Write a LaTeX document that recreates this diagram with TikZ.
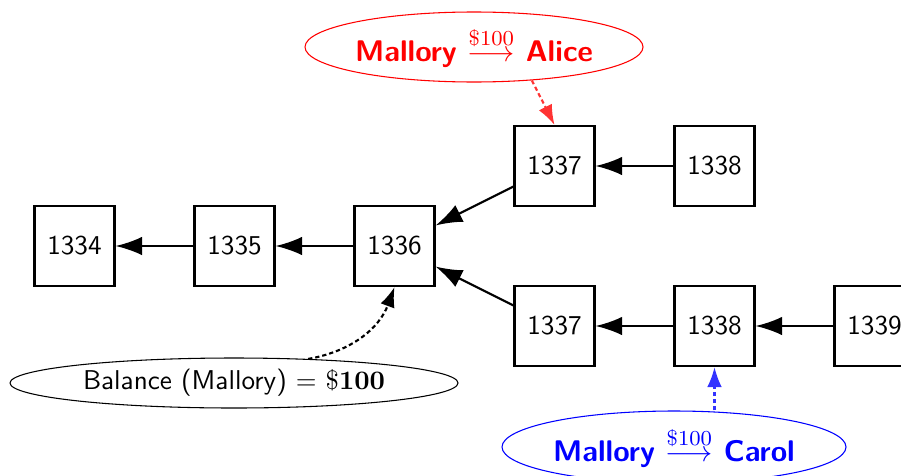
\documentclass[tikz,border=0pt]{standalone}
\usetikzlibrary{arrows.meta,shapes.geometric}
\usepackage{amsmath}
\begin{document}
\begin{tikzpicture}[x=0.375pt,y=-0.375pt,
  font=\sffamily\fontsize{10.2}{12}\selectfont,
  block/.style={draw,thick,minimum size=30pt,inner sep=0pt},
  link/.style={thick,-{Latex[length=10pt,width=7pt]}},
  hint/.style={thick,dash pattern=on 1.6pt off 1.1pt,-{Latex[length=7.5pt,width=5.5pt]}},
  tag/.style={ellipse,thin,inner sep=0pt,font=\sffamily\fontsize{11.2}{13}\selectfont\bfseries}]
  \useasboundingbox (0,0) rectangle (901,475);

  % main chain
  \node[block] (b1334) at (74.5,246) {1334};
  \node[block] (b1335) at (234.5,246) {1335};
  \node[block] (b1336) at (394.5,246) {1336};
  % upper fork
  \node[block] (u1337) at (554.5,166) {1337};
  \node[block] (u1338) at (714.5,166) {1338};
  % lower fork
  \node[block] (l1337) at (554.5,326) {1337};
  \node[block] (l1338) at (714.5,326) {1338};
  \node[block] (l1339) at (874.5,326) {1339};

  \draw[link] (b1335) -- (b1334);
  \draw[link] (b1336) -- (b1335);
  \draw[link] (u1337) -- (b1336);
  \draw[link] (l1337) -- (b1336);
  \draw[link] (u1338) -- (u1337);
  \draw[link] (l1338) -- (l1337);
  \draw[link] (l1339) -- (l1338);

  % annotations
  \node[tag,draw=red,text=red,minimum width=126.75pt,minimum height=26.25pt] (pay1) at (474,47)
    {Mallory $\overset{\$100}{\longrightarrow}$ Alice};
  \node[tag,draw=blue,text=blue,minimum width=129pt,minimum height=27pt] (pay2) at (674,447)
    {Mallory $\overset{\$100}{\longrightarrow}$ Carol};
  \node[ellipse,draw,thin,inner sep=0pt,minimum width=168pt,minimum height=18.75pt] (bal) at (234,383)
    {Balance (Mallory) $=$ $\$\mathbf{100}$};

  \draw[hint,red!80] (pay1.-30) -- (u1337.north);
  \draw[hint,blue!80] (pay2.north -| l1338) -- (l1338.south);
  \draw[hint] (bal.18) to[bend right] (b1336.south);
\end{tikzpicture}
\end{document}
